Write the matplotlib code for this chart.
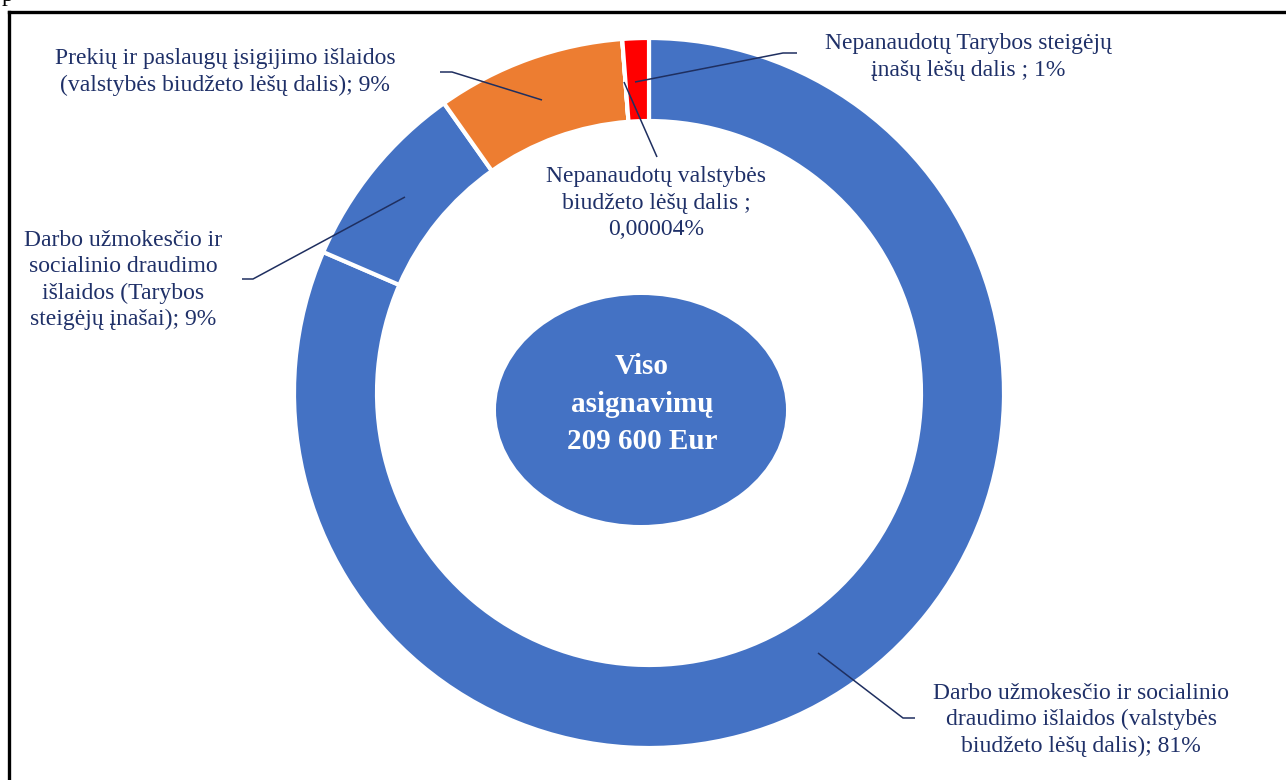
import matplotlib
matplotlib.use("Agg")
import matplotlib.pyplot as plt
from matplotlib.patches import Ellipse

# ---- data ----
categories = [
    "Darbo užmokesčio ir socialinio\ndraudimo išlaidos (valstybės\nbiudžeto lėšų dalis); 81%",
    "Darbo užmokesčio ir\nsocialinio draudimo\nišlaidos (Tarybos\nsteigėjų įnašai); 9%",
    "Prekių ir paslaugų įsigijimo išlaidos\n(valstybės biudžeto lėšų dalis); 9%",
    "Nepanaudotų valstybės\nbiudžeto lėšų dalis ;\n0,00004%",
    "Nepanaudotų Tarybos steigėjų\nįnašų lėšų dalis ; 1%",
]
values = [81.5, 8.7, 8.6, 0.00004, 1.2]
colors = ["#4472C4", "#4472C4", "#ED7D31", "#4472C4", "#FF0000"]
center_text = "Viso\nasignavimų\n209 600 Eur"

# label positions (pixel coords) and leader line points
label_pos = [(1081, 720), (123, 280), (225, 72), (656, 203), (968, 57)]
leaders = [
    [(818, 653), (903, 718), (915, 718)],
    [(405, 197), (253, 279), (242, 279)],
    [(542, 100), (452, 72), (440, 72)],
    [(624, 82), (657, 157)],
    [(635, 82), (783, 53), (797, 53)],
]

TXT = "#1F3068"
W, H = 1286, 780
fig = plt.figure(figsize=(W / 100, H / 100), dpi=100)
ax = fig.add_axes([0, 0, 1, 1])

cx, cy, R = 649, 393, 355
ax.pie(values, colors=colors, center=(cx, cy), radius=R, startangle=-90,
       counterclock=True,
       wedgeprops=dict(width=83, edgecolor="white", linewidth=3))

ax.set_xlim(0, W)
ax.set_ylim(H, 0)
ax.set_aspect("equal")
ax.axis("off")

# central ellipse
ax.add_patch(Ellipse((641, 410), 290, 230, facecolor="#4472C4", edgecolor="none"))
ax.text(642, 404, center_text, ha="center", va="center", color="white",
        fontsize=21, fontweight="bold", family="Liberation Serif", linespacing=1.5)

for lab, (x, y), pts in zip(categories, label_pos, leaders):
    ax.text(x, y, lab, ha="center", va="center", color=TXT, fontsize=17,
            family="Liberation Serif", linespacing=1.33)
    xs = [p[0] for p in pts]
    ys = [p[1] for p in pts]
    ax.plot(xs, ys, color="#1F2F60", lw=1.1, solid_capstyle="butt")

# frame
ax.plot([9, 9], [12, H + 5], color="black", lw=2.4, solid_capstyle="projecting")
ax.plot([9, W + 5], [12, 12], color="black", lw=2.4, solid_capstyle="projecting")

# cut-off letter at top-left
ax.text(2, 1, "p", ha="left", va="baseline", color="black", fontsize=17,
        family="Liberation Serif")

fig.savefig("out.png", dpi=100)
